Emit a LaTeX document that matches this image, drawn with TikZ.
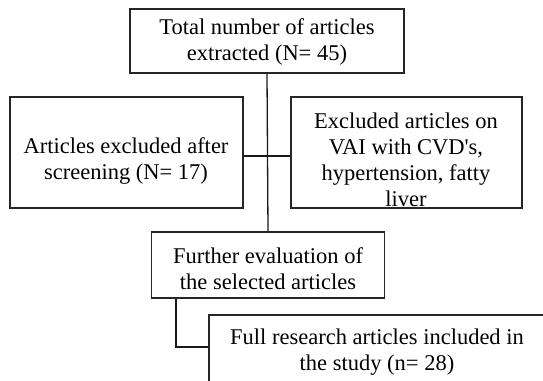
\documentclass[tikz,border=0pt]{standalone}
\usepackage{fontspec}
\setmainfont{Liberation Serif}
\begin{document}
\begin{tikzpicture}[x=1pt,y=1pt,
  boxshape/.style={draw=black!85,line width=1.6pt,inner sep=0pt,fill=white},
  boxtext/.style={align=center,inner sep=0pt,font=\fontsize{22.5}{26}\selectfont},
  link/.style={draw=black!90,line width=1.3pt}]
\useasboundingbox (0,0) rectangle (543,380);
\clip (0,0) rectangle (543,380);
% boxes
\node[boxshape,minimum width=274pt,minimum height=64pt] (top) at (267,339) {};
\node[boxshape,minimum width=233pt,minimum height=111pt] (left) at (126.5,227.5) {};
\node[boxshape,minimum width=231pt,minimum height=111pt] (right) at (406.5,227.5) {};
\node[boxshape,minimum width=233pt,minimum height=66pt] (mid) at (268,115) {};
\node[boxshape,minimum width=336pt,minimum height=85pt] (bot) at (377,22.5) {};
% connectors
\coordinate (junction) at (268,224);
\coordinate (elbow) at (176,33);
\draw[link] (top.south) -- (mid.north);
\draw[link] (left.east |- junction) -- (right.west |- junction);
\draw[link] (mid.south -| elbow) |- (bot.west |- elbow);
% texts
\node[boxtext] (ttop) at (267,338) {Total number of articles\\extracted (N= 45)};
\node[boxtext] (tleft) at (126,219) {Articles excluded after\\screening (N= 17)};
\node[boxtext] (tright) at (406,220) {Excluded articles on\\VAI with CVD\textquotesingle s,\\hypertension, fatty\\liver};
\node[boxtext] (tmid) at (268,111) {Further evaluation of\\the selected articles};
\node[boxtext] (tbot) at (377,27.5) {Full research articles included in\\the study (n= 28)};
\end{tikzpicture}
\end{document}
